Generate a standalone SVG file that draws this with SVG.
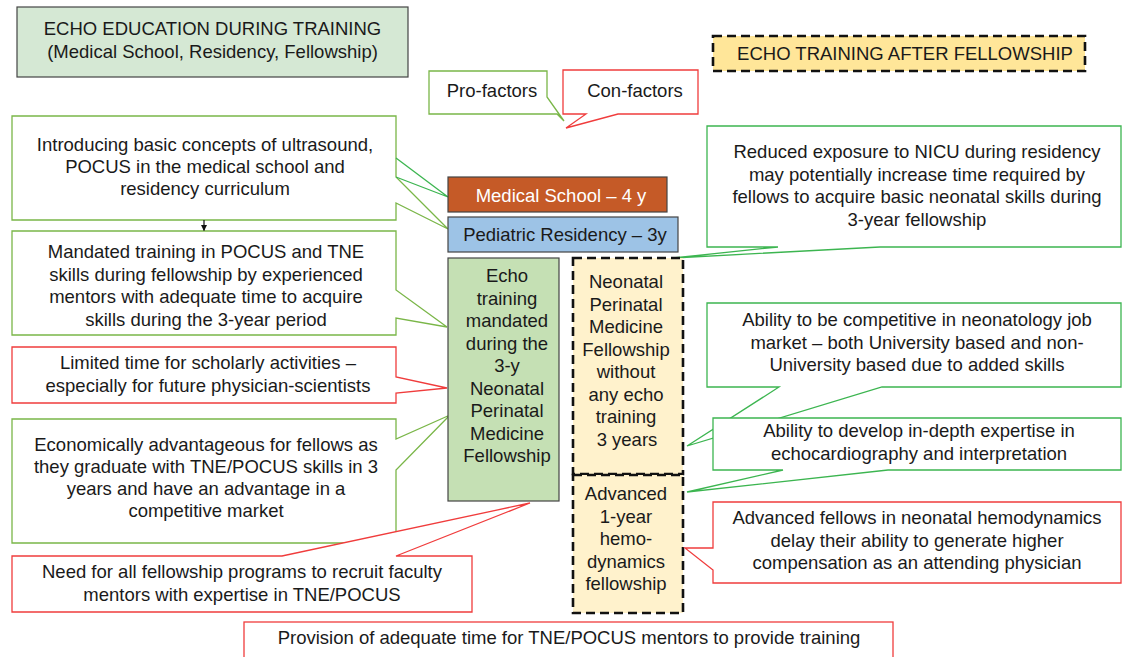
<svg xmlns="http://www.w3.org/2000/svg" width="1124" height="657" viewBox="0 0 1124 657">
<defs>
<style>
text{font-family:"Liberation Sans",Arial,Helvetica,sans-serif;font-size:18.5px;fill:#1a1a1a;text-anchor:middle}
.w{fill:#ffffff}
.olive{fill:#ffffff;stroke:#7ab648;stroke-width:1.3}
.green{fill:#ffffff;stroke:#3cb550;stroke-width:1.3}
.red{fill:#ffffff;stroke:#f03c3c;stroke-width:1.3}
.solid{stroke:#444444;stroke-width:1.2}
.dash{stroke:#111111;stroke-width:2.6;stroke-dasharray:9 5}
</style>
<marker id="ah" viewBox="0 0 10 10" refX="9" refY="5" markerWidth="5" markerHeight="5" orient="auto">
<path d="M0,0 L10,5 L0,10 Z" fill="#111"/>
</marker>
</defs>
<rect width="1124" height="657" fill="#ffffff"/>

<g id="title">
<rect x="17" y="7" width="391" height="70" fill="#d5e8d4" class="solid"/>
<text x="212.5" y="35">ECHO EDUCATION DURING TRAINING</text>
<text x="212.5" y="58">(Medical School, Residency, Fellowship)</text>
</g>

<g id="after-fellowship">
<rect x="713" y="36" width="372" height="35" fill="#ffe699" class="dash"/>
<text x="905" y="60">ECHO TRAINING AFTER FELLOWSHIP</text>
</g>

<g id="pro-factors">
<path d="M429,71 H547 V97 L564,121 L557,114 H429 Z" class="olive"/>
<text x="492" y="97">Pro-factors</text>
</g>

<g id="con-factors">
<path d="M563,70 H698 V114 H618 L566,128 L586,114 H563 Z" class="red"/>
<text x="635" y="97">Con-factors</text>
</g>

<g id="introducing">
<path d="M12,116 H396 V177 L448,229 L396,203 V220 H12 Z" class="olive"/>
<path d="M396,158 L448,197 L396,177" fill="none" stroke="#3cb550" stroke-width="1.3"/>
<text x="205" y="151">Introducing basic concepts of ultrasound,</text>
<text x="205" y="173">POCUS in the medical school and</text>
<text x="205" y="195">residency curriculum</text>
</g>

<g id="mandated">
<path d="M12,231 H396 V290 L447,327 L396,318 V335 H12 Z" class="olive"/>
<text x="206" y="258">Mandated training in POCUS and TNE</text>
<text x="206" y="280.5">skills during fellowship by experienced</text>
<text x="206" y="303">mentors with adequate time to acquire</text>
<text x="206" y="325.5">skills during the 3-year period</text>
</g>

<g id="limited-time">
<path d="M12,347 H396 V377 L447,388 L396,393 V403 H12 Z" class="red"/>
<text x="208" y="369">Limited time for scholarly activities –</text>
<text x="208" y="391.5">especially for future physician-scientists</text>
</g>

<g id="economically">
<path d="M12,419 H396 V439 L450,415 L396,470 V543 H12 Z" class="olive"/>
<text x="206" y="451">Economically advantageous for fellows as</text>
<text x="206" y="473">they graduate with TNE/POCUS skills in 3</text>
<text x="206" y="495">years and have an advantage in a</text>
<text x="206" y="517">competitive market</text>
</g>

<g id="need-faculty">
<path d="M12,556 H282 L530,503 L396,556 H472 V612 H12 Z" class="red"/>
<text x="242" y="578">Need for all fellowship programs to recruit faculty</text>
<text x="242" y="600.5">mentors with expertise in TNE/POCUS</text>
</g>

<g id="provision">
<rect x="244" y="622" width="649" height="45" class="red"/>
<text x="569" y="644">Provision of adequate time for TNE/POCUS mentors to provide training</text>
</g>

<g id="medical-school">
<rect x="448" y="177" width="219" height="35" fill="#c55a27" class="solid"/>
<text x="561" y="202" class="w">Medical School – 4 y</text>
</g>

<g id="pediatric-residency">
<rect x="448" y="217" width="230" height="35" fill="#9dc3e6" class="solid"/>
<text x="565" y="241">Pediatric Residency – 3y</text>
</g>

<g id="echo-mandated">
<rect x="448" y="258" width="111" height="243" fill="#c5e0b4" class="solid"/>
<text x="507" y="282">Echo</text>
<text x="507" y="304.5">training</text>
<text x="507" y="327">mandated</text>
<text x="507" y="349.5">during the</text>
<text x="507" y="372">3-y</text>
<text x="507" y="394.5">Neonatal</text>
<text x="507" y="417">Perinatal</text>
<text x="507" y="439.5">Medicine</text>
<text x="507" y="462">Fellowship</text>
</g>

<g id="reduced-exposure">
<path d="M707,126 H1121 V247 H880 L673,258 L778,247 H707 Z" class="green"/>
<text x="917" y="158">Reduced exposure to NICU during residency</text>
<text x="917" y="180.5">may potentially increase time required by</text>
<text x="917" y="203">fellows to acquire basic neonatal skills during</text>
<text x="917" y="225.5">3-year fellowship</text>
</g>

<g id="neonatal-no-echo">
<rect x="573" y="258" width="110" height="216" fill="#fff2cc" class="dash"/>
<text x="626" y="288">Neonatal</text>
<text x="626" y="310.5">Perinatal</text>
<text x="626" y="333">Medicine</text>
<text x="626" y="355.5">Fellowship</text>
<text x="626" y="378">without</text>
<text x="626" y="400.5">any echo</text>
<text x="626" y="423">training</text>
<text x="627" y="445.5">3 years</text>
</g>

<g id="advanced-hemodynamics">
<rect x="573" y="475" width="110" height="138" fill="#fff2cc" class="dash"/>
<text x="626" y="500">Advanced</text>
<text x="626" y="522.5">1-year</text>
<text x="626" y="545">hemo-</text>
<text x="626" y="567.5">dynamics</text>
<text x="626" y="590">fellowship</text>
</g>

<g id="competitive-market">
<path d="M707,303 H1121 V387 H882 L687,446 L779,387 H707 Z" class="green"/>
<text x="917" y="326">Ability to be competitive in neonatology job</text>
<text x="917" y="348.5">market – both University based and non-</text>
<text x="917" y="371">University based due to added skills</text>
</g>

<g id="in-depth-expertise">
<path d="M713,418 H1121 V470 H888 L687,492 L783,470 H713 Z" class="green"/>
<text x="919" y="437">Ability to develop in-depth expertise in</text>
<text x="919" y="459.5">echocardiography and interpretation</text>
</g>

<g id="delay-compensation">
<path d="M713,502 H1121 V583 H713 V570 L685,548 L713,548 Z" class="red"/>
<text x="917" y="524">Advanced fellows in neonatal hemodynamics</text>
<text x="917" y="546.5">delay their ability to generate higher</text>
<text x="917" y="569">compensation as an attending physician</text>
</g>

<g id="connectors">
<line x1="204" y1="220" x2="204" y2="230.5" stroke="#111" stroke-width="1.2" marker-end="url(#ah)"/>
</g>
</svg>
